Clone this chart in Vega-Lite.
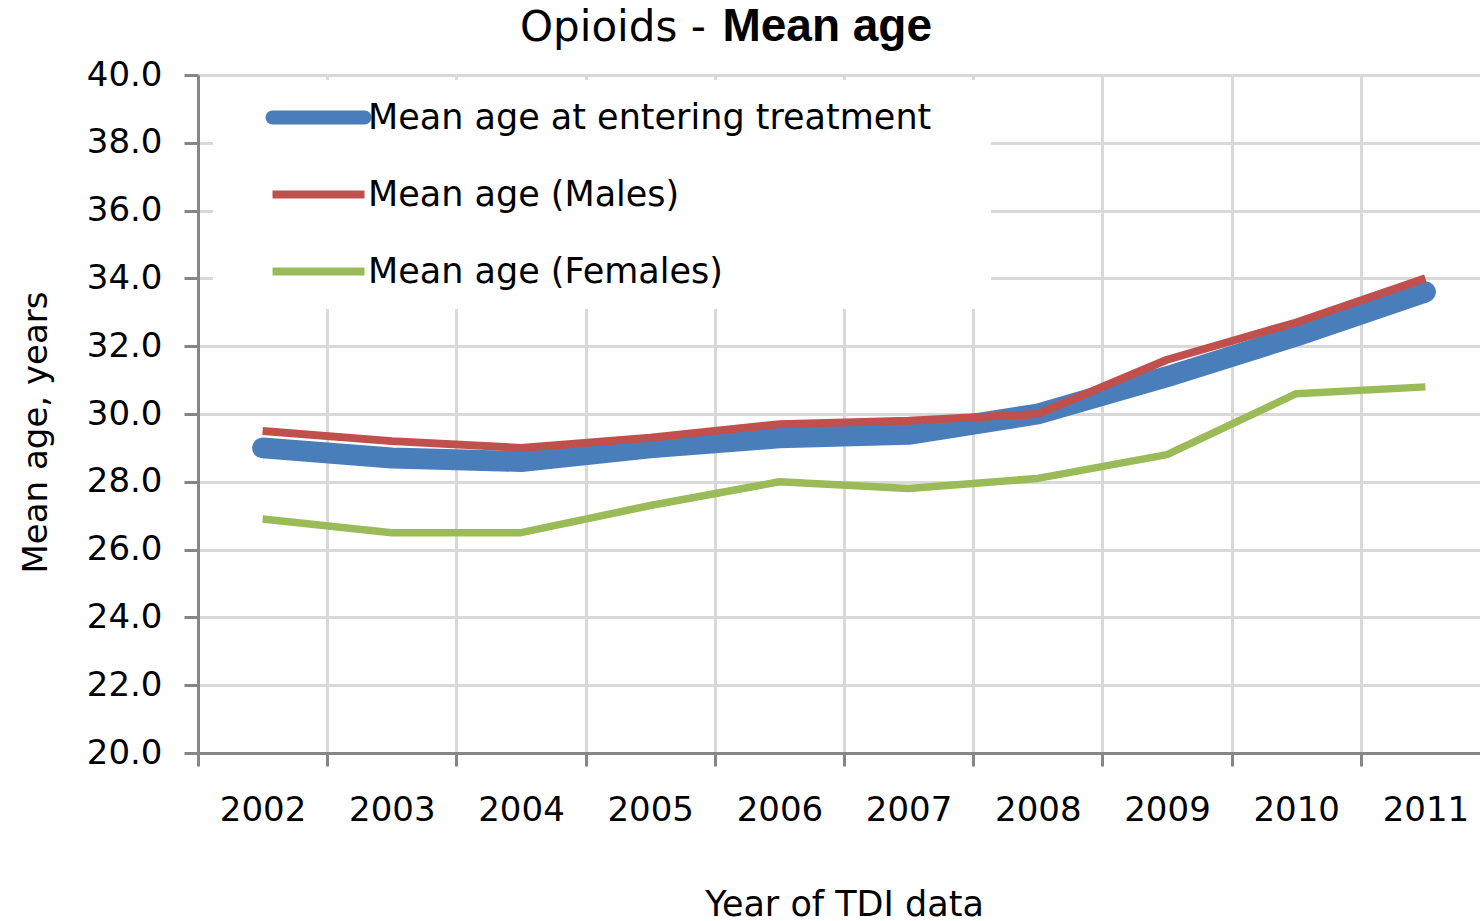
{
  "$schema": "https://vega.github.io/schema/vega-lite/v6.json",
  "width": 1292,
  "height": 678,
  "autosize": {"type": "none"},
  "padding": {"left": 198, "top": 75, "right": -10, "bottom": 168},
  "background": "white",
  "config": {"view": {"stroke": null}, "font": "DejaVu Sans"},
  "title": {
    "text": "Opioids -",
    "subtitle": "\u200b\u2002\u2002\u2002\u2002\u2002\u2002\u2002\u2002\u2009\u2009Mean age",
    "anchor": "start",
    "frame": "group",
    "dx": 322,
    "offset": 4,
    "font": "DejaVu Sans",
    "fontSize": 42,
    "fontWeight": "normal",
    "color": "black",
    "subtitleFont": "Liberation Sans",
    "subtitleFontSize": 46,
    "subtitleFontWeight": "bold",
    "subtitleColor": "black",
    "subtitlePadding": -45
  },
  "data": {
    "values": [
      {"year": 2002, "series": "Mean age at entering treatment", "value": 29.0},
      {"year": 2003, "series": "Mean age at entering treatment", "value": 28.7},
      {"year": 2004, "series": "Mean age at entering treatment", "value": 28.6},
      {"year": 2005, "series": "Mean age at entering treatment", "value": 29.0},
      {"year": 2006, "series": "Mean age at entering treatment", "value": 29.3},
      {"year": 2007, "series": "Mean age at entering treatment", "value": 29.4},
      {"year": 2008, "series": "Mean age at entering treatment", "value": 30.0},
      {"year": 2009, "series": "Mean age at entering treatment", "value": 31.1},
      {"year": 2010, "series": "Mean age at entering treatment", "value": 32.3},
      {"year": 2011, "series": "Mean age at entering treatment", "value": 33.6},
      {"year": 2002, "series": "Mean age (Males)", "value": 29.5},
      {"year": 2003, "series": "Mean age (Males)", "value": 29.2},
      {"year": 2004, "series": "Mean age (Males)", "value": 29.0},
      {"year": 2005, "series": "Mean age (Males)", "value": 29.3},
      {"year": 2006, "series": "Mean age (Males)", "value": 29.7},
      {"year": 2007, "series": "Mean age (Males)", "value": 29.8},
      {"year": 2008, "series": "Mean age (Males)", "value": 30.0},
      {"year": 2009, "series": "Mean age (Males)", "value": 31.6},
      {"year": 2010, "series": "Mean age (Males)", "value": 32.7},
      {"year": 2011, "series": "Mean age (Males)", "value": 34.0},
      {"year": 2002, "series": "Mean age (Females)", "value": 26.9},
      {"year": 2003, "series": "Mean age (Females)", "value": 26.5},
      {"year": 2004, "series": "Mean age (Females)", "value": 26.5},
      {"year": 2005, "series": "Mean age (Females)", "value": 27.3},
      {"year": 2006, "series": "Mean age (Females)", "value": 28.0},
      {"year": 2007, "series": "Mean age (Females)", "value": 27.8},
      {"year": 2008, "series": "Mean age (Females)", "value": 28.1},
      {"year": 2009, "series": "Mean age (Females)", "value": 28.8},
      {"year": 2010, "series": "Mean age (Females)", "value": 30.6},
      {"year": 2011, "series": "Mean age (Females)", "value": 30.8}
    ]
  },
  "encoding": {
    "x": {
      "field": "year",
      "type": "ordinal",
      "scale": {"type": "band", "paddingInner": 0, "paddingOuter": 0},
      "axis": {
        "title": "Year of TDI data",
        "tickBand": "extent",
        "grid": true,
        "gridColor": "#d9d9d9",
        "gridWidth": 3,
        "domainColor": "#868686",
        "domainWidth": 3,
        "tickColor": "#868686",
        "tickWidth": 3,
        "tickSize": 13,
        "labelPadding": 27,
        "labelAngle": 0,
        "labelFont": "DejaVu Sans",
        "labelFontSize": 34,
        "labelColor": "black",
        "titleFont": "DejaVu Sans",
        "titleFontSize": 35,
        "titleFontWeight": "normal",
        "titleColor": "black",
        "titlePadding": 60
      }
    },
    "y": {
      "field": "value",
      "type": "quantitative",
      "scale": {"domain": [20, 40], "nice": false, "zero": false},
      "axis": {
        "title": "Mean age, years",
        "values": [20, 22, 24, 26, 28, 30, 32, 34, 36, 38, 40],
        "format": ".1f",
        "grid": true,
        "gridColor": "#d9d9d9",
        "gridWidth": 3,
        "domainColor": "#868686",
        "domainWidth": 3,
        "tickColor": "#868686",
        "tickWidth": 3,
        "tickSize": 14,
        "labelPadding": 22,
        "labelFont": "DejaVu Sans",
        "labelFontSize": 34,
        "labelColor": "black",
        "titleFont": "DejaVu Sans",
        "titleFontSize": 34,
        "titleFontWeight": "normal",
        "titleColor": "black",
        "titlePadding": 33,
        "titleY": 357
      }
    },
    "color": {
      "field": "series",
      "type": "nominal",
      "scale": {
        "domain": ["Mean age at entering treatment", "Mean age (Males)", "Mean age (Females)"],
        "range": ["#4a7ebb", "#c0504d", "#9bbb59"]
      },
      "legend": {
        "title": null,
        "orient": "none",
        "legendX": 15,
        "legendY": 5,
        "padding": 10,
        "fillColor": "white",
        "symbolType": "stroke",
        "symbolSize": 8464,
        "symbolOffset": 78,
        "labelOffset": 32,
        "clipHeight": 55,
        "rowPadding": 22,
        "labelFont": "DejaVu Sans",
        "labelFontSize": 35,
        "labelColor": "black",
        "labelLimit": 1000,
        "labelExpr": "datum.label + '\u2003\u2009\u2009\u200b'",
        "encode": {
          "symbols": {
            "update": {
              "strokeWidth": {"signal": "datum.value === 'Mean age at entering treatment' ? 14 : 8"},
              "strokeCap": {"signal": "datum.value === 'Mean age at entering treatment' ? 'round' : 'butt'"}
            }
          }
        }
      }
    }
  },
  "layer": [
    {
      "transform": [{"filter": "datum.series === 'Mean age at entering treatment'"}],
      "mark": {"type": "line", "strokeWidth": 21, "strokeCap": "round", "strokeJoin": "round", "interpolate": "linear"}
    },
    {
      "transform": [{"filter": "datum.series === 'Mean age (Males)'"}],
      "mark": {"type": "line", "strokeWidth": 8, "strokeCap": "butt", "strokeJoin": "round", "interpolate": "linear"}
    },
    {
      "transform": [{"filter": "datum.series === 'Mean age (Females)'"}],
      "mark": {"type": "line", "strokeWidth": 7.5, "strokeCap": "butt", "strokeJoin": "round", "interpolate": "linear"}
    }
  ]
}
